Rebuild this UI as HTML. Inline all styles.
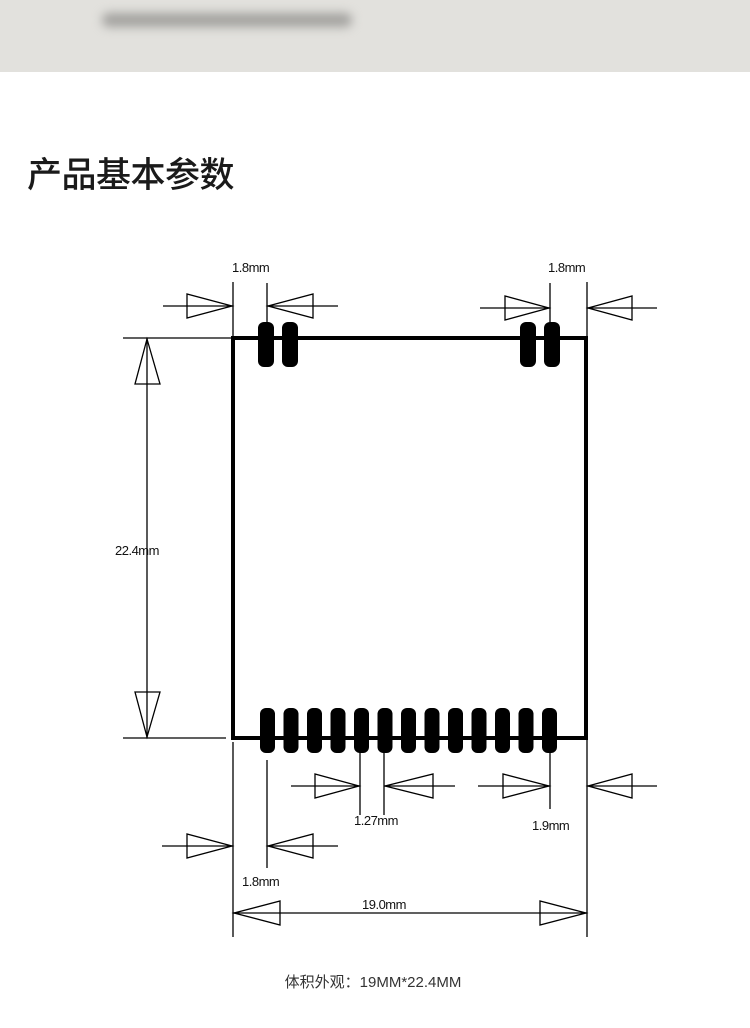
<!DOCTYPE html>
<html><head><meta charset="utf-8"><style>
html,body{margin:0;padding:0;background:#fff;}
body{width:750px;height:1028px;position:relative;overflow:hidden;}
.top{position:absolute;left:0;top:0;width:750px;height:72px;background:#e2e1dd;}
.blur{position:absolute;left:102px;top:13px;width:250px;height:14px;border-radius:7px;background:#a3a29f;filter:blur(5px);}
.title{position:absolute;left:27px;top:147px;font-family:"Liberation Sans","Noto Sans CJK SC",sans-serif;font-size:35px;font-weight:500;color:#1a1a1a;letter-spacing:-0.5px;}
.cap{position:absolute;left:0;width:746px;top:971px;text-align:center;font-family:"Liberation Sans","Noto Sans CJK SC",sans-serif;font-size:15px;color:#333;}
svg{position:absolute;left:0;top:0;}
</style></head><body>
<div class="top"><div class="blur"></div></div>
<div class="title">产品基本参数</div>
<svg width="750" height="1028" viewBox="0 0 750 1028">
<g stroke="#000" stroke-width="1.3" fill="none">
<line x1="233" y1="282" x2="233" y2="338"/><line x1="267" y1="283" x2="267" y2="322"/>
<line x1="163" y1="306" x2="233" y2="306"/><polygon points="187,294 187,318 232,306"/>
<line x1="267" y1="306" x2="338" y2="306"/><polygon points="313,294 313,318 268,306"/>
<line x1="550" y1="283" x2="550" y2="322"/><line x1="587" y1="282" x2="587" y2="338"/>
<line x1="480" y1="308" x2="550" y2="308"/><polygon points="505,296 505,320 549,308"/>
<line x1="587" y1="308" x2="657" y2="308"/><polygon points="632,296 632,320 588,308"/>
<line x1="123" y1="338" x2="232" y2="338"/><line x1="123" y1="738" x2="226" y2="738"/>
<line x1="147" y1="338" x2="147" y2="738"/>
<polygon points="135,384 160,384 147,339"/><polygon points="135,692 160,692 147,737"/>
<line x1="360" y1="752" x2="360" y2="815"/><line x1="384" y1="752" x2="384" y2="815"/>
<line x1="291" y1="786" x2="360" y2="786"/><polygon points="315,774 315,798 359,786"/>
<line x1="384" y1="786" x2="455" y2="786"/><polygon points="433,774 433,798 385,786"/>
<line x1="550" y1="752" x2="550" y2="809"/><line x1="587" y1="740" x2="587" y2="937"/>
<line x1="478" y1="786" x2="550" y2="786"/><polygon points="503,774 503,798 549,786"/>
<line x1="587" y1="786" x2="657" y2="786"/><polygon points="632,774 632,798 588,786"/>
<line x1="233" y1="742" x2="233" y2="937"/><line x1="267" y1="760" x2="267" y2="868"/>
<line x1="162" y1="846" x2="233" y2="846"/><polygon points="187,834 187,858 232,846"/>
<line x1="267" y1="846" x2="338" y2="846"/><polygon points="313,834 313,858 268,846"/>
<line x1="233" y1="913" x2="587" y2="913"/>
<polygon points="280,901 280,925 234,913"/><polygon points="540,901 540,925 586,913"/>
</g>
<rect x="233" y="338" width="353" height="400" fill="none" stroke="#000" stroke-width="4"/>
<g fill="#000">
<rect x="258" y="322" width="16" height="45" rx="6"/><rect x="282" y="322" width="16" height="45" rx="6"/>
<rect x="520" y="322" width="16" height="45" rx="6"/><rect x="544" y="322" width="16" height="45" rx="6"/>
<rect x="260" y="708" width="15" height="45" rx="6"/><rect x="283.5" y="708" width="15" height="45" rx="6"/>
<rect x="307" y="708" width="15" height="45" rx="6"/><rect x="330.5" y="708" width="15" height="45" rx="6"/>
<rect x="354" y="708" width="15" height="45" rx="6"/><rect x="377.5" y="708" width="15" height="45" rx="6"/>
<rect x="401" y="708" width="15" height="45" rx="6"/><rect x="424.5" y="708" width="15" height="45" rx="6"/>
<rect x="448" y="708" width="15" height="45" rx="6"/><rect x="471.5" y="708" width="15" height="45" rx="6"/>
<rect x="495" y="708" width="15" height="45" rx="6"/><rect x="518.5" y="708" width="15" height="45" rx="6"/>
<rect x="542" y="708" width="15" height="45" rx="6"/>
</g>
<g font-family="Liberation Sans, sans-serif" font-size="13" fill="#111" letter-spacing="-0.5">
<text x="232" y="272">1.8mm</text>
<text x="548" y="272">1.8mm</text>
<text x="115" y="555">22.4mm</text>
<text x="354" y="825">1.27mm</text>
<text x="532" y="830">1.9mm</text>
<text x="242" y="886">1.8mm</text>
<text x="362" y="909">19.0mm</text>
</g>
</svg>
<div class="cap">体积外观：19MM*22.4MM</div>
</body></html>
